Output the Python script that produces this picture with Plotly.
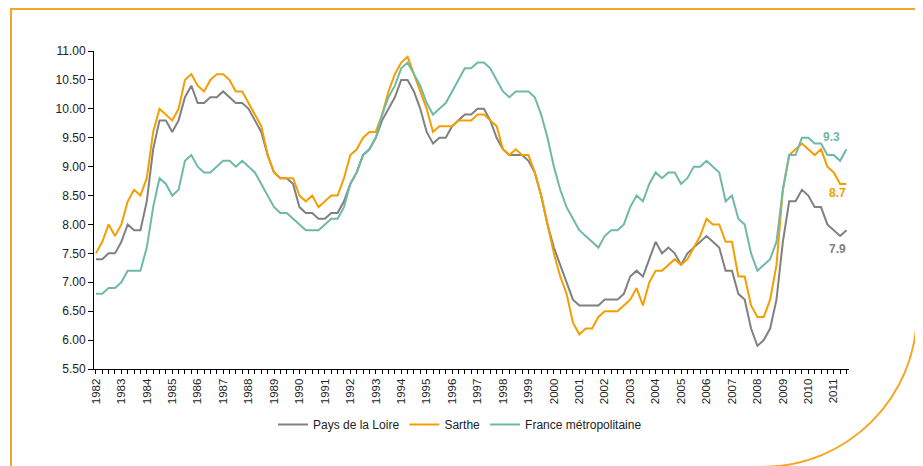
import plotly.graph_objects as go

# Quarterly unemployment rate (%), 1982 Q1 -> 2011 Q3
years = list(range(1982, 2012))
pays_de_la_loire = [
    7.4, 7.4, 7.5, 7.5, 7.7, 8.0, 7.9, 7.9, 8.4, 9.3, 9.8, 9.8, 9.6, 9.8, 10.2, 10.4, 10.1, 10.1, 10.2, 10.2,
    10.3, 10.2, 10.1, 10.1, 10.0, 9.8, 9.6, 9.2, 8.9, 8.8, 8.8, 8.7, 8.3, 8.2, 8.2, 8.1, 8.1, 8.2, 8.2, 8.4,
    8.7, 8.9, 9.2, 9.3, 9.5, 9.8, 10.0, 10.2, 10.5, 10.5, 10.3, 10.0, 9.6, 9.4, 9.5, 9.5, 9.7, 9.8, 9.9, 9.9,
    10.0, 10.0, 9.8, 9.5, 9.3, 9.2, 9.2, 9.2, 9.1, 8.9, 8.5, 8.0, 7.6, 7.3, 7.0, 6.7, 6.6, 6.6, 6.6, 6.6,
    6.7, 6.7, 6.7, 6.8, 7.1, 7.2, 7.1, 7.4, 7.7, 7.5, 7.6, 7.5, 7.3, 7.5, 7.6, 7.7, 7.8, 7.7, 7.6, 7.2,
    7.2, 6.8, 6.7, 6.2, 5.9, 6.0, 6.2, 6.7, 7.7, 8.4, 8.4, 8.6, 8.5, 8.3, 8.3, 8.0, 7.9, 7.8, 7.9,
]
sarthe = [
    7.5, 7.7, 8.0, 7.8, 8.0, 8.4, 8.6, 8.5, 8.8, 9.6, 10.0, 9.9, 9.8, 10.0, 10.5, 10.6, 10.4, 10.3, 10.5, 10.6,
    10.6, 10.5, 10.3, 10.3, 10.1, 9.9, 9.7, 9.2, 8.9, 8.8, 8.8, 8.8, 8.5, 8.4, 8.5, 8.3, 8.4, 8.5, 8.5, 8.8,
    9.2, 9.3, 9.5, 9.6, 9.6, 9.9, 10.3, 10.6, 10.8, 10.9, 10.6, 10.3, 10.0, 9.6, 9.7, 9.7, 9.7, 9.8, 9.8, 9.8,
    9.9, 9.9, 9.8, 9.7, 9.3, 9.2, 9.3, 9.2, 9.2, 8.9, 8.5, 8.0, 7.5, 7.1, 6.8, 6.3, 6.1, 6.2, 6.2, 6.4,
    6.5, 6.5, 6.5, 6.6, 6.7, 6.9, 6.6, 7.0, 7.2, 7.2, 7.3, 7.4, 7.3, 7.4, 7.6, 7.8, 8.1, 8.0, 8.0, 7.7,
    7.7, 7.1, 7.1, 6.6, 6.4, 6.4, 6.7, 7.3, 8.6, 9.2, 9.3, 9.4, 9.3, 9.2, 9.3, 9.0, 8.9, 8.7, 8.7,
]
france_metro = [
    6.8, 6.8, 6.9, 6.9, 7.0, 7.2, 7.2, 7.2, 7.6, 8.3, 8.8, 8.7, 8.5, 8.6, 9.1, 9.2, 9.0, 8.9, 8.9, 9.0,
    9.1, 9.1, 9.0, 9.1, 9.0, 8.9, 8.7, 8.5, 8.3, 8.2, 8.2, 8.1, 8.0, 7.9, 7.9, 7.9, 8.0, 8.1, 8.1, 8.3,
    8.7, 8.9, 9.2, 9.3, 9.5, 9.9, 10.2, 10.4, 10.7, 10.8, 10.6, 10.4, 10.1, 9.9, 10.0, 10.1, 10.3, 10.5, 10.7, 10.7,
    10.8, 10.8, 10.7, 10.5, 10.3, 10.2, 10.3, 10.3, 10.3, 10.2, 9.9, 9.5, 9.0, 8.6, 8.3, 8.1, 7.9, 7.8, 7.7, 7.6,
    7.8, 7.9, 7.9, 8.0, 8.3, 8.5, 8.4, 8.7, 8.9, 8.8, 8.9, 8.9, 8.7, 8.8, 9.0, 9.0, 9.1, 9.0, 8.9, 8.4,
    8.5, 8.1, 8.0, 7.5, 7.2, 7.3, 7.4, 7.7, 8.6, 9.2, 9.2, 9.5, 9.5, 9.4, 9.4, 9.2, 9.2, 9.1, 9.3,
]
series_names = ["Pays de la Loire", "Sarthe", "France métropolitaine"]
y_ticks = [5.5 + 0.5 * k for k in range(12)]

GRAY = "#808080"
ORANGE = "#F59E00"
TEAL = "#6FB9A6"
FRAME = "#F5A623"

n = len(pays_de_la_loire)
xs = list(range(n))
tickvals = xs
ticktext = [str(years[i // 4]) if i % 4 == 0 else "" for i in xs]

# page has an 8px body margin: work in screen pixels and convert
OFF = 8
W, H = 923 - OFF, 466 - OFF
PL, PR, PT, PB = 94, 849, 51, 369          # plot area in screen pixels
L, T = PL - OFF, PT - OFF
R, B = W - (PR - OFF), H - (PB - OFF)
PW, PH = PR - PL, PB - PT

def px(X):
    return (X - PL) / PW

def py(Y):
    return (PB - Y) / PH

fig = go.Figure()
for name, vals, col in zip(series_names, [pays_de_la_loire, sarthe, france_metro], [GRAY, ORANGE, TEAL]):
    fig.add_trace(go.Scatter(x=xs, y=vals, mode="lines", name=name,
                             line=dict(color=col, width=2)))

# end labels
last = n - 1
fig.add_annotation(x=last, y=france_metro[-1], text="<b>%.1f</b>" % france_metro[-1], showarrow=False,
                   font=dict(color=TEAL, size=12), xshift=-15, yshift=12)
fig.add_annotation(x=last, y=sarthe[-1], text="<b>%.1f</b>" % sarthe[-1], showarrow=False,
                   font=dict(color=ORANGE, size=12), xshift=-9, yshift=-9)
fig.add_annotation(x=last, y=pays_de_la_loire[-1], text="<b>%.1f</b>" % pays_de_la_loire[-1], showarrow=False,
                   font=dict(color=GRAY, size=12), xshift=-9, yshift=-19)

# decorative orange frame
k = 0.5523
r = 155
cx, cy = 762, 312
path = (f"M {px(11)},{py(480)} L {px(11)},{py(9)} L {px(917)},{py(9)} L {px(917)},{py(cy)} "
        f"C {px(917)},{py(cy + k * r)} {px(cx + k * r)},{py(cy + r)} {px(cx)},{py(cy + r)}")
fig.add_shape(type="path", path=path, xref="paper", yref="paper",
              line=dict(color=FRAME, width=2), layer="below")

fig.update_layout(
    width=W, height=H,
    margin=dict(l=L, r=R, t=T, b=B, autoexpand=False),
    paper_bgcolor="white", plot_bgcolor="white",
    font=dict(family="Liberation Sans, Arial", size=12, color="#222222"),
    showlegend=True,
    legend=dict(orientation="h", x=px(460), xanchor="center", y=py(410), yanchor="top",
                font=dict(size=12, color="#222222"), bgcolor="rgba(0,0,0,0)"),
    xaxis=dict(range=[-0.3, 118.4], tickmode="array", tickvals=tickvals, ticktext=ticktext,
               tickangle=-90, showgrid=False, zeroline=False, showline=True, linecolor="black",
               linewidth=1, ticks="outside", ticklen=4, tickcolor="black",
               tickfont=dict(size=11.5, color="#222222")),
    yaxis=dict(range=[5.5, 11.0], tickmode="array", tickvals=y_ticks,
               ticktext=["%.2f" % v for v in y_ticks], showgrid=False, zeroline=False,
               showline=True, linecolor="black", linewidth=1, ticks="outside", ticklen=5,
               tickcolor="black", tickfont=dict(size=12, color="#222222")),
)

fig.write_html("out.html")
